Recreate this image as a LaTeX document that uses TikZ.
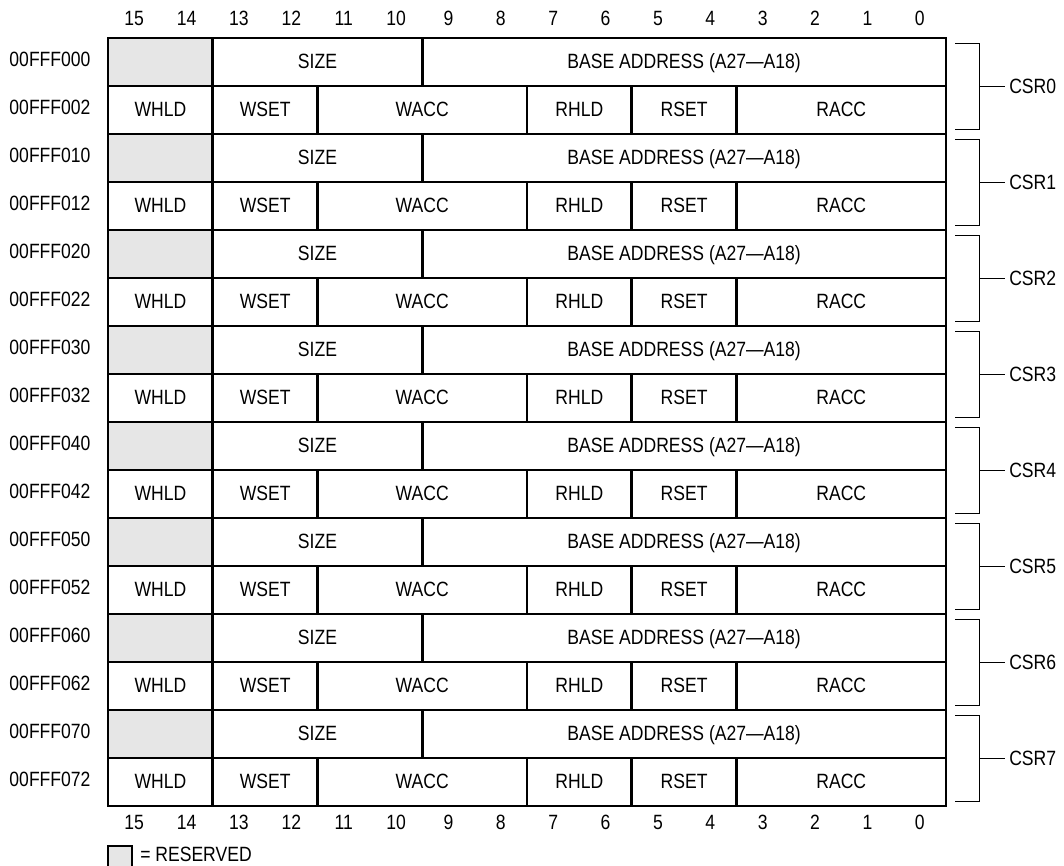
\documentclass[tikz,border=0pt]{standalone}
\usepackage{fontspec}
\setmainfont{Liberation Sans}[FakeStretch=0.85]
\usetikzlibrary{positioning,calc}
\definecolor{resgray}{RGB}{230,230,230}

% one field of a register row: style, name, top y, high bit, low bit, text
\newcommand{\regfield}[6]{%
  \pgfmathsetmacro\fx{108+(15-#4)*52.375}%
  \pgfmathsetmacro\fw{(#4-#5+1)*39.28125}%
  \node[#1,minimum width=\fw pt] (#2) at (\fx,#3) {#6};}

\begin{document}
\begin{tikzpicture}[x=0.75pt,y=-0.75pt,
  font=\fontsize{15.5}{18}\selectfont,
  fld/.style={draw,line width=1.9pt,inner sep=0pt,outer sep=0pt,anchor=north west,
    minimum height=36pt,text height=1.8ex,text depth=0pt},
  rsv/.style={fld,fill=resgray},
  lbl/.style={inner sep=0pt},
  brk/.style={line width=0.7pt}]
\useasboundingbox (0,0) rectangle (1064,865);
% bit numbers
\foreach \b in {0,...,15}{
  \node[lbl] (tbit\b) at ({108+(15.5-\b)*52.375},18) {\b};
  \node[lbl] (bbit\b) at ({108+(15.5-\b)*52.375},822) {\b};}
% register pairs
\foreach \k in {0,...,7}{
  \pgfmathsetmacro\ya{38+96*\k}
  \pgfmathsetmacro\yb{\ya+48}
  \regfield{rsv}{res\k}{\ya}{15}{14}{}
  \regfield{fld}{size\k}{\ya}{13}{10}{SIZE}
  \regfield{fld}{base\k}{\ya}{9}{0}{BASE ADDRESS (A27—A18)}
  \regfield{fld}{whld\k}{\yb}{15}{14}{WHLD}
  \regfield{fld}{wset\k}{\yb}{13}{12}{WSET}
  \regfield{fld}{wacc\k}{\yb}{11}{8}{WACC}
  \regfield{fld}{rhld\k}{\yb}{7}{6}{RHLD}
  \regfield{fld}{rset\k}{\yb}{5}{4}{RSET}
  \regfield{fld}{racc\k}{\yb}{3}{0}{RACC}
  \node[lbl] (adra\k) at (50,\ya+21) {00FFF0\k0};
  \node[lbl] (adrb\k) at (50,\yb+21) {00FFF0\k2};
  % bracket and name
  \coordinate (brt\k) at (955,\ya+5);
  \coordinate (brb\k) at (955,\ya+91);
  \coordinate (brm\k) at (979,\ya+48);
  \node[anchor=west,inner sep=3pt] (csr\k) at (1005,\ya+48) {CSR\k};
  \draw[brk] (brt\k) -- ++(24,0) |- (brb\k);
  \draw[brk] (brm\k) -- (csr\k.west);}
% legend
\node[rsv,minimum width=18pt,minimum height=18pt] (key) at (108,846) {};
\node[lbl,anchor=west] (keytxt) at (140,854) {= RESERVED};
\end{tikzpicture}
\end{document}
